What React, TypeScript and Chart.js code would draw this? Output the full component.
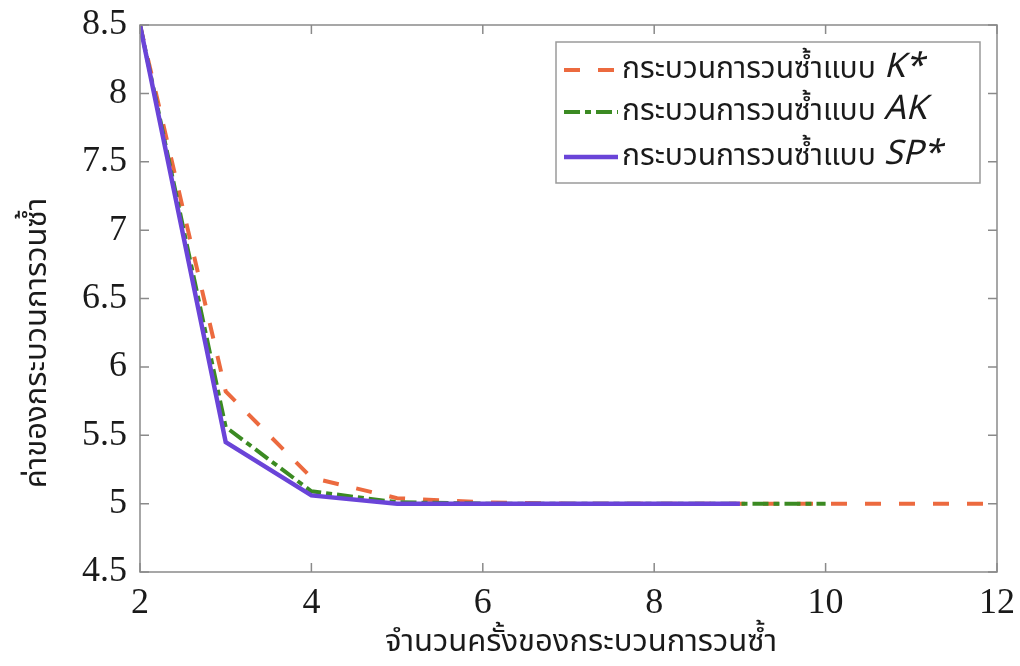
import React, { useEffect, useRef } from "react";
import { Chart, registerables } from "chart.js";

Chart.register(...registerables);

// ---- data ----
const xK = [2, 3, 4, 5, 6, 7, 8, 9, 10, 11, 12];
const yK = [8.5, 5.82, 5.19, 5.04, 5.01, 5.0, 5.0, 5.0, 5.0, 5.0, 5.0];
const xAK = [2, 3, 4, 5, 6, 7, 8, 9, 10];
const yAK = [8.5, 5.56, 5.09, 5.01, 5.0, 5.0, 5.0, 5.0, 5.0];
const xSP = [2, 3, 4, 5, 6, 7, 8, 9];
const ySP = [8.5, 5.45, 5.06, 5.0, 5.0, 5.0, 5.0, 5.0];

const xTicks = [2, 4, 6, 8, 10, 12];
const yTicks = [4.5, 5, 5.5, 6, 6.5, 7, 7.5, 8, 8.5];

const legendPrefix = "กระบวนการวนซ้ำแบบ";
const legendSuffix = ["K*", "AK", "SP*"];
const xTitle = "จำนวนครั้งของกระบวนการวนซ้ำ";
const yTitle = "ค่าของกระบวนการวนซ้ำ";

const COLORS = ["#EC6A3F", "#3B8A22", "#6A44D8"];
const DASHES = [[16, 18], [16, 5, 6, 5], []];
const WIDTHS = [4, 4, 4.5];

const THAI = '"Noto Sans Thai", "Noto Sans", "DejaVu Sans", sans-serif';
const SERIF = '"Liberation Serif", "Times New Roman", serif';

const toPts = (xs: number[], ys: number[]) => xs.map((x, i) => ({ x, y: ys[i] }));

const decorPlugin = {
  id: "decor",
  afterDatasetsDraw(chart: any) {
    const { ctx, chartArea } = chart;
    const { left, right, top, bottom } = chartArea;
    const xs = chart.scales.x;
    const ys = chart.scales.y;
    ctx.save();
    // box
    ctx.strokeStyle = "#8a8a8a";
    ctx.lineWidth = 1.5;
    ctx.setLineDash([]);
    ctx.strokeRect(left, top, right - left, bottom - top);
    // inward ticks (all four sides)
    const tl = 9;
    ctx.beginPath();
    xTicks.forEach((v) => {
      const px = xs.getPixelForValue(v);
      ctx.moveTo(px, bottom);
      ctx.lineTo(px, bottom - tl);
      ctx.moveTo(px, top);
      ctx.lineTo(px, top + tl);
    });
    yTicks.forEach((v) => {
      const py = ys.getPixelForValue(v);
      ctx.moveTo(left, py);
      ctx.lineTo(left + tl, py);
      ctx.moveTo(right, py);
      ctx.lineTo(right - tl, py);
    });
    ctx.stroke();

    // legend
    const bx = right - 441;
    const by = top + 17;
    const bw = 424;
    const bh = 141;
    ctx.fillStyle = "#ffffff";
    ctx.fillRect(bx, by, bw, bh);
    ctx.strokeStyle = "#9a9a9a";
    ctx.lineWidth = 1.5;
    ctx.strokeRect(bx, by, bw, bh);
    const rowsY = [by + 28, by + 70, by + 115];
    for (let i = 0; i < 3; i++) {
      const ry = rowsY[i];
      ctx.strokeStyle = COLORS[i];
      ctx.lineWidth = WIDTHS[i];
      ctx.setLineDash(DASHES[i]);
      ctx.beginPath();
      ctx.moveTo(bx + 8, ry);
      ctx.lineTo(bx + 62, ry);
      ctx.stroke();
      ctx.setLineDash([]);
      ctx.fillStyle = "#1a1a1a";
      ctx.textBaseline = "middle";
      ctx.textAlign = "left";
      ctx.font = `30px ${THAI}`;
      const tx = bx + 66;
      ctx.fillText(legendPrefix, tx, ry + 2);
      const w = ctx.measureText(legendPrefix).width;
      ctx.font = `italic 34px ${THAI}`;
      ctx.fillText(legendSuffix[i], tx + w + 8, ry);
    }

    // axis titles
    ctx.fillStyle = "#1a1a1a";
    ctx.font = `31px ${THAI}`;
    ctx.textAlign = "center";
    ctx.textBaseline = "middle";
    ctx.fillText(xTitle, 581, 645);
    ctx.translate(40, 343);
    ctx.rotate(-Math.PI / 2);
    ctx.fillText(yTitle, 0, 0);
    ctx.restore();
  },
};

export default function App() {
  const ref = useRef<HTMLCanvasElement>(null);
  useEffect(() => {
    if (!ref.current) return;
    const chart = new Chart(ref.current, {
      type: "line",
      data: {
        datasets: [
          {
            label: legendPrefix + " " + legendSuffix[2],
            data: toPts(xSP, ySP),
            borderColor: COLORS[2],
            borderWidth: WIDTHS[2],
            borderDash: DASHES[2],
            pointRadius: 0,
            tension: 0,
            order: 0,
          },
          {
            label: legendPrefix + " " + legendSuffix[1],
            data: toPts(xAK, yAK),
            borderColor: COLORS[1],
            borderWidth: WIDTHS[1],
            borderDash: DASHES[1],
            pointRadius: 0,
            tension: 0,
            order: 1,
          },
          {
            label: legendPrefix + " " + legendSuffix[0],
            data: toPts(xK, yK),
            borderColor: COLORS[0],
            borderWidth: WIDTHS[0],
            borderDash: DASHES[0],
            pointRadius: 0,
            tension: 0,
            order: 2,
          },
        ],
      },
      options: {
        animation: false,
        responsive: true,
        maintainAspectRatio: false,
        layout: { padding: { top: 25, right: 23, left: 0, bottom: 0 } },
        plugins: { legend: { display: false }, tooltip: { enabled: false } },
        scales: {
          x: {
            type: "linear",
            min: 2,
            max: 12,
            afterBuildTicks: (s: any) => {
              s.ticks = xTicks.map((v) => ({ value: v }));
            },
            afterFit: (s: any) => {
              s.height = 94;
              s.paddingLeft = 0;
              s.paddingRight = 0;
            },
            grid: { display: false, drawTicks: false },
            border: { display: false },
            ticks: {
              color: "#1a1a1a",
              font: { family: SERIF, size: 36 },
              padding: 10,
              maxRotation: 0,
              callback: (v: any) => String(v),
            },
          },
          y: {
            type: "linear",
            min: 4.5,
            max: 8.5,
            afterBuildTicks: (s: any) => {
              s.ticks = yTicks.map((v) => ({ value: v }));
            },
            afterFit: (s: any) => {
              s.width = 140;
              s.paddingTop = 0;
              s.paddingBottom = 0;
            },
            grid: { display: false, drawTicks: false },
            border: { display: false },
            ticks: {
              color: "#1a1a1a",
              font: { family: SERIF, size: 36 },
              padding: 13,
              callback: (v: any) => String(v),
            },
          },
        },
      },
      plugins: [decorPlugin],
    });
    return () => chart.destroy();
  }, []);
  return (
    <div style={{ position: "fixed", left: 0, top: 0, width: 1020, height: 666, background: "#fff" }}>
      <canvas ref={ref} />
    </div>
  );
}
